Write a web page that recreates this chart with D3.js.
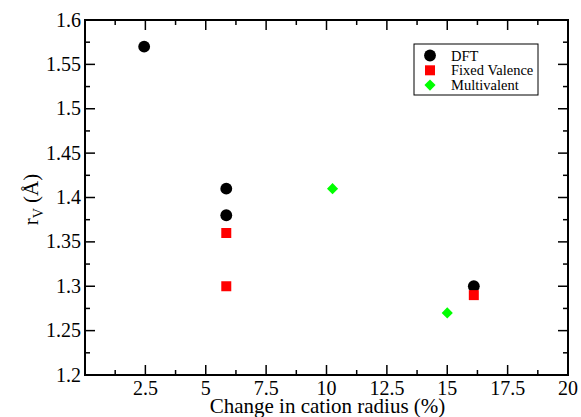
<!DOCTYPE html>
<html>
<head>
<meta charset="utf-8">
<script src="https://cdn.jsdelivr.net/npm/d3@7"></script>
<style>
  body { margin: 0; background: #fff; }
  svg text { font-family: "Liberation Serif", "Times New Roman", serif; }
</style>
</head>
<body>
<div id="chart"></div>
<script>
var width = 581,
    height = 417;
var margin = {left: 85, right: 13, top: 20, bottom: 42};
var serif = "Liberation Serif";

// data
var dft = [[2.45, 1.57], [5.85, 1.41], [5.85, 1.38], [16.1, 1.30]];
var fixedValence = [[5.85, 1.36], [5.85, 1.30], [16.1, 1.29]];
var multivalent = [[10.25, 1.41], [15.0, 1.27]];
var xTicks = [2.5, 5, 7.5, 10, 12.5, 15, 17.5, 20];
var yTicks = [1.2, 1.25, 1.3, 1.35, 1.4, 1.45, 1.5, 1.55, 1.6];
var seriesNames = ["DFT", "Fixed Valence", "Multivalent"];

var svg = d3.select("#chart").append("svg")
    .attr("width", width)
    .attr("height", height)
    .attr("font-family", serif);

var x = d3.scaleLinear().domain([0, 20]).range([margin.left, width - margin.right]);
var y = d3.scaleLinear().domain([1.2, 1.6]).range([height - margin.bottom, margin.top]);

var x0 = x.range()[0], x1 = x.range()[1], y0 = y.range()[0], y1 = y.range()[1];
var xMinor = d3.range(0, 20.01, 1.25);
var yMinor = d3.range(1.2, 1.601, 0.025);

var g = svg.append("g").attr("stroke", "#000").attr("stroke-width", 1.5);

// inward ticks on all four sides
xMinor.forEach(function (v, i) {
    var len = (i % 2 == 0) ? 10 : 5;
    g.append("line").attr("x1", x(v)).attr("x2", x(v)).attr("y1", y0).attr("y2", y0 - len);
    g.append("line").attr("x1", x(v)).attr("x2", x(v)).attr("y1", y1).attr("y2", y1 + len);
});
yMinor.forEach(function (v, i) {
    var len = (i % 2 == 0) ? 10 : 5;
    g.append("line").attr("x1", x0).attr("x2", x0 + len).attr("y1", y(v)).attr("y2", y(v));
    g.append("line").attr("x1", x1).attr("x2", x1 - len).attr("y1", y(v)).attr("y2", y(v));
});

svg.append("rect")
    .attr("x", x0).attr("y", y1)
    .attr("width", x1 - x0).attr("height", y0 - y1)
    .attr("fill", "none").attr("stroke", "#000").attr("stroke-width", 2);

svg.selectAll(".xl").data(xTicks).enter().append("text")
    .attr("font-family", serif)
    .attr("x", d => x(d)).attr("y", y0 + 20)
    .attr("text-anchor", "middle").attr("font-size", 20)
    .text(d => d);

svg.selectAll(".yl").data(yTicks).enter().append("text")
    .attr("font-family", serif)
    .attr("x", x0 - 4).attr("y", d => y(d) + 6.5)
    .attr("text-anchor", "end").attr("font-size", 20)
    .text(d => d);

svg.append("text")
    .attr("font-family", serif)
    .attr("x", (x0 + x1) / 2 + 1).attr("y", 413)
    .attr("text-anchor", "middle").attr("font-size", 21)
    .text("Change in cation radius (%)");

var yl = svg.append("text")
    .attr("font-family", serif)
    .attr("transform", "translate(38," + ((y0 + y1) / 2 + 2) + ") rotate(-90)")
    .attr("text-anchor", "middle").attr("font-size", 21);
yl.append("tspan").text("r");
yl.append("tspan").attr("font-size", 14).attr("dy", 5).text("V");
yl.append("tspan").attr("dy", -5).text(" (Å)");

var circle = d3.symbol().type(d3.symbolCircle).size(110);
var square = d3.symbol().type(d3.symbolSquare).size(100);
var diamond = d3.symbol().type(d3.symbolSquare).size(62);

svg.selectAll(".dft").data(dft).enter().append("path")
    .attr("d", circle).attr("fill", "#000")
    .attr("transform", d => "translate(" + x(d[0]) + "," + y(d[1]) + ")");
svg.selectAll(".fv").data(fixedValence).enter().append("path")
    .attr("d", square).attr("fill", "#ff0000")
    .attr("transform", d => "translate(" + x(d[0]) + "," + y(d[1]) + ")");
svg.selectAll(".mv").data(multivalent).enter().append("path")
    .attr("d", diamond).attr("fill", "#00ff00")
    .attr("transform", d => "translate(" + x(d[0]) + "," + y(d[1]) + ") rotate(45)");

// legend
var leg = svg.append("g");
leg.append("rect")
    .attr("x", 414).attr("y", 44).attr("width", 124).attr("height", 51)
    .attr("fill", "#fff").attr("stroke", "#000").attr("stroke-width", 1);
var legSyms = [circle, square, diamond];
var legColors = ["#000", "#ff0000", "#00ff00"];
seriesNames.forEach(function (name, i) {
    var cy = 55.5 + i * 14.8;
    leg.append("path").attr("d", legSyms[i]).attr("fill", legColors[i])
        .attr("transform", "translate(430," + cy + ")" + (i == 2 ? " rotate(45)" : ""));
    leg.append("text").attr("font-family", serif).attr("x", 451).attr("y", cy + 5)
        .attr("font-size", 14.5).text(name);
});
</script>
</body>
</html>
